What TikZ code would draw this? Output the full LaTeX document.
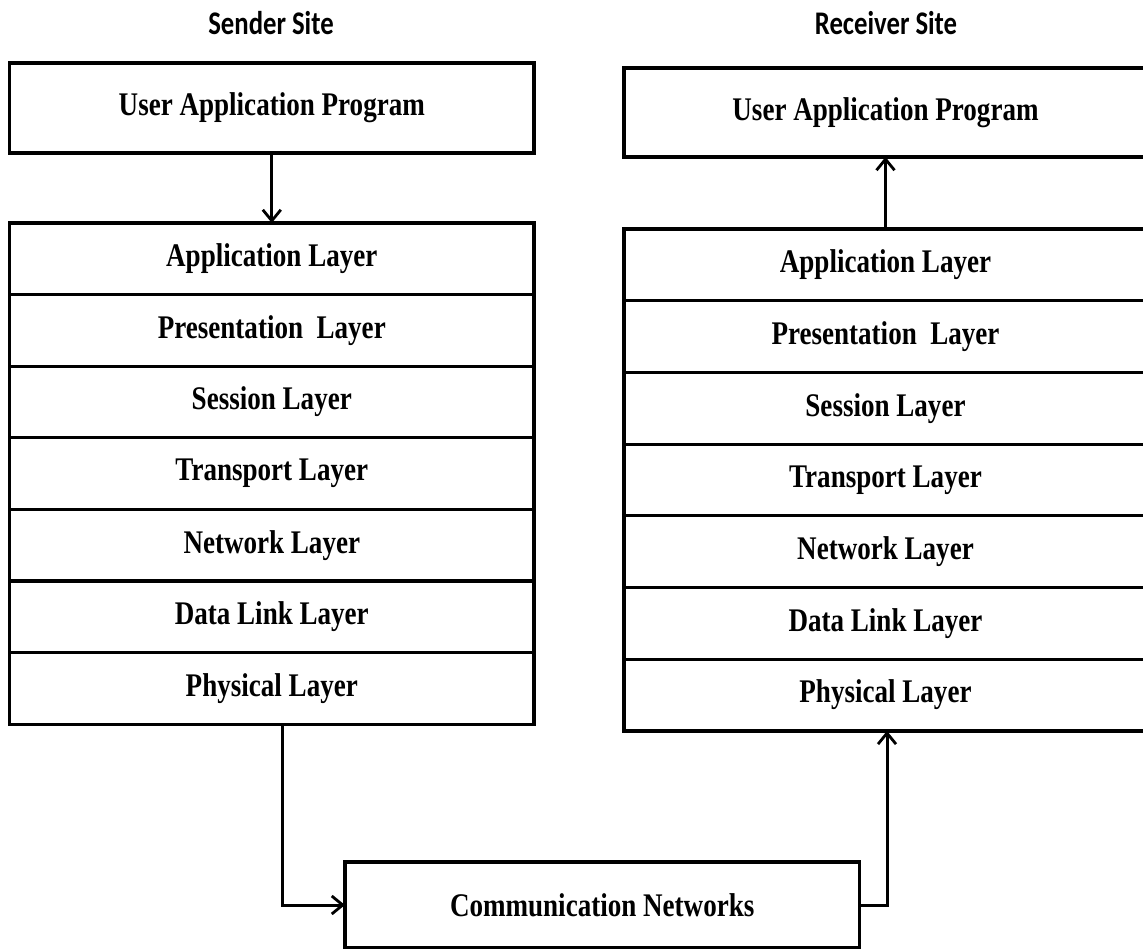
\documentclass[tikz,border=0pt]{standalone}
\usepackage{fontspec}
\usetikzlibrary{arrows.meta}
\newfontfamily\layerfont[FakeStretch=0.82]{Liberation Serif}
\newfontfamily\titlefont[FakeStretch=0.81]{Carlito}
\tikzset{
  layerbox/.style={draw, line width=3.2pt, inner sep=0pt, outer sep=0pt,
    font=\layerfont\bfseries\fontsize{33}{38}\selectfont},
  leftcol/.style={layerbox, minimum width=524.4pt},
  rightcol/.style={layerbox, minimum width=523pt},
  sitetitle/.style={inner sep=0pt, font=\titlefont\bfseries\fontsize{33}{38}\selectfont},
  flow/.style={line width=3pt, -{Straight Barb[length=11pt,width=18pt,line width=2.8pt]}},
}
\begin{document}
\begin{tikzpicture}[x=1pt,y=-1pt]
\useasboundingbox (0,0) rectangle (1143,949);

% site titles
\node[sitetitle] (stitle) at (271,23) {Sender Site};
\node[sitetitle] (rtitle) at (886,23) {Receiver Site};

% sender site
\node[leftcol, minimum height=90pt] (sapp) at (271.8,108) {User Application Program};
\foreach \name/\txt [count=\i from 0] in {s1/Application Layer, s2/Presentation\ \ Layer, s3/Session Layer, s4/Transport Layer, s5/Network Layer, s6/Data Link Layer, s7/Physical Layer}
  \node[leftcol, minimum height=71.6pt] (\name) at (271.8,{223+35.8+71.6*\i}) {\txt};

% receiver site
\node[rightcol, minimum height=89pt] (rapp) at (885.5,112.5) {User Application Program};
\foreach \name/\txt [count=\i from 0] in {r1/Application Layer, r2/Presentation\ \ Layer, r3/Session Layer, r4/Transport Layer, r5/Network Layer, r6/Data Link Layer, r7/Physical Layer}
  \node[rightcol, minimum height=71.7pt] (\name) at (885.5,{229+35.85+71.7*\i}) {\txt};

% network between the two sites
\node[layerbox, minimum width=514.5pt, minimum height=86pt] (net) at (602.2,905) {Communication Networks};

% data flow
\draw[flow] (sapp.south) -- (s1.north);
\draw[flow] (r1.north) -- (rapp.south);
\draw[flow] (s7.south -| 282,0) |- (net.west);
\draw[flow] (net.east) -| (r7.south -| 887,0);
\end{tikzpicture}
\end{document}
